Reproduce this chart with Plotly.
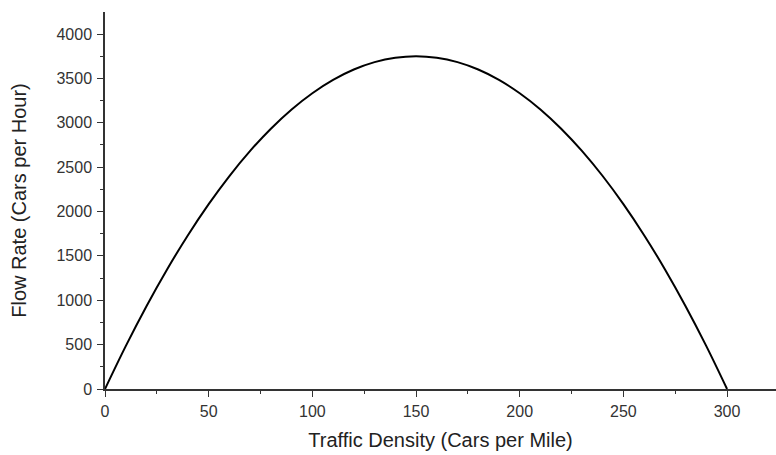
import plotly.graph_objects as go

density = [0, 10, 20, 30, 40, 50, 60, 70, 80, 90, 100, 110, 120, 130, 140, 150,
           160, 170, 180, 190, 200, 210, 220, 230, 240, 250, 260, 270, 280, 290, 300]
flow = [0, 483, 933, 1350, 1733, 2083, 2400, 2683, 2933, 3150, 3333, 3483, 3600, 3683, 3733, 3750,
        3733, 3683, 3600, 3483, 3333, 3150, 2933, 2683, 2400, 2083, 1733, 1350, 933, 483, 0]

x_title = "Traffic Density (Cars per Mile)"
y_title = "Flow Rate (Cars per Hour)"

fig = go.Figure(go.Scatter(x=density, y=flow, mode="lines", line=dict(color="black", width=2, shape="spline")))

font = dict(family="Liberation Sans, Arial, sans-serif", size=16, color="#333333")
fig.update_layout(
    width=776, height=455, paper_bgcolor="white", plot_bgcolor="white",
    margin=dict(l=105, r=0, t=12, b=66), showlegend=False, font=font,
)
fig.update_xaxes(
    range=[0, 323.6], tickmode="linear", tick0=0, dtick=50, showgrid=False, zeroline=False,
    showline=True, linecolor="#333333", linewidth=1.5, ticks="outside", ticklen=6, tickcolor="#333333",
    tickfont=dict(size=16, color="#333333"), ticklabelstandoff=1,
    minor=dict(ticks="outside", ticklen=3, dtick=25, tickcolor="#333333", showgrid=False),
    title=dict(text=x_title, font=dict(size=20, color="#222222"), standoff=14),
)
fig.update_yaxes(
    range=[0, 4248], tickmode="linear", tick0=0, dtick=500, showgrid=False, zeroline=False,
    showline=True, linecolor="#333333", linewidth=1.5, ticks="outside", ticklen=6, tickcolor="#333333",
    tickfont=dict(size=16, color="#333333"), ticklabelstandoff=2,
    minor=dict(ticks="outside", ticklen=3, dtick=250, tickcolor="#333333", showgrid=False),
    title=dict(text=y_title, font=dict(size=20, color="#222222"), standoff=24),
)
fig.write_html("out.html")
